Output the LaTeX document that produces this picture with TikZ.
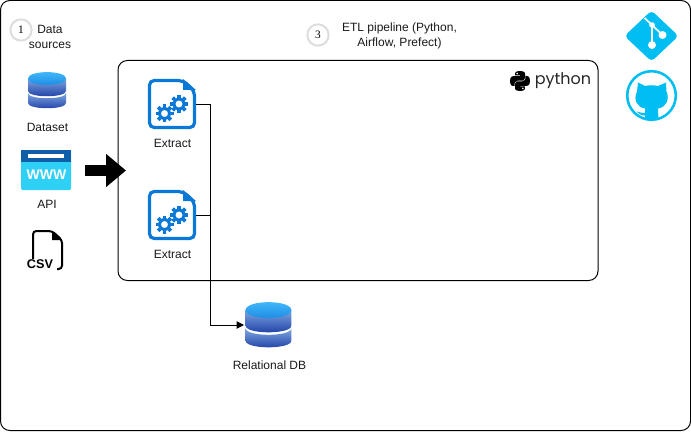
\documentclass[tikz,border=0pt]{standalone}
\usepackage{fontspec}
\setmainfont{Liberation Sans}
\newfontfamily\logofont{Poppins}
\newfontfamily\numfont{Liberation Serif}
\usetikzlibrary{arrows.meta}
\definecolor{IconBlue}{HTML}{0A78D7}
\definecolor{BrandCyan}{HTML}{00BEF2}
\definecolor{WwwDark}{HTML}{0F5EA8}
\definecolor{WwwLight}{HTML}{2FD0F5}
\definecolor{DbTop}{HTML}{45BDFF}
\definecolor{DbTopEnd}{HTML}{1A86DE}
\definecolor{DbLight}{HTML}{7FA8E0}
\definecolor{DbDark}{HTML}{1B3CA6}
\definecolor{StepGray}{HTML}{DDDDDD}
\newcommand{\pxwidth}{0.75pt}
\tikzset{
  label text/.style={font=\fontsize{9}{11.25}\selectfont,align=center,text=black!90,inner sep=0pt},
  icon box/.style={inner sep=0pt,outer sep=0pt,minimum width=#1*0.75pt,minimum height=#1*0.75pt},
  step circle/.style={circle,draw=StepGray,line width=1.5pt,minimum size=16pt,inner sep=0pt,
    font=\numfont\fontsize{8.5}{10}\selectfont},
  frame box/.style={draw=black,line width=\pxwidth,rounded corners=7pt},
  link line/.style={draw=black,line width=\pxwidth},
}
% cylinder, x and y are the top centre
\newcommand{\dbicon}[4]{
  \begin{scope}[shift={(#1,#2)},xscale=#3,yscale=#4]
    \shade[top color=DbLight,bottom color=DbDark] (-19,6) -- (-19,19)
      .. controls (-19,26) and (19,26) .. (19,19) -- (19,6) -- cycle;
    \shade[top color=DbLight,bottom color=DbDark] (-19,21)
      .. controls (-19,28) and (19,28) .. (19,21) -- (19,31)
      .. controls (19,38) and (-19,38) .. (-19,31) -- cycle;
    \shade[top color=DbTop,bottom color=DbTopEnd] (-19,6.5)
      .. controls (-19,-2) and (19,-2) .. (19,6.5)
      .. controls (19,15) and (-19,15) .. (-19,6.5) -- cycle;
  \end{scope}
}
\newcommand{\gearicon}[3]{
  \begin{scope}[shift={(#1,#2)}]
    \foreach \a in {0,45,...,315}
      \draw[IconBlue,line width=#3*0.3pt] (\a:#3*0.7) -- (\a:#3);
    \draw[IconBlue,fill=white,line width=#3*0.25pt] (0,0) circle (#3*0.58);
  \end{scope}
}
\newcommand{\extracticon}[2]{
  \begin{scope}[shift={(#1,#2)}]
    \draw[IconBlue,line width=2.4pt,rounded corners=3.5pt,fill=white]
      (1.5,1.5) -- (35,1.5) -- (46.5,12) -- (46.5,48.5) -- (1.5,48.5) -- cycle;
    \fill[IconBlue] (35,0) -- (48,11) -- (35,11) -- cycle;
    \gearicon{31}{25}{9}
    \gearicon{16.5}{34.5}{9}
  \end{scope}
}
\newcommand{\wwwicon}[2]{
  \begin{scope}[shift={(#1,#2)}]
    \fill[WwwLight,rounded corners=1pt] (0,0) rectangle (50,40);
    \fill[WwwDark] (0,0) rectangle (50,12);
    \fill[white] (7,3.5) rectangle (43,7.5);
  \end{scope}
}
\newcommand{\csvicon}[2]{
  \begin{scope}[shift={(#1,#2)}]
    \draw[black,line width=1.5pt,rounded corners=2.5pt]
      (0,28) -- (0,0) -- (19,0) -- (29,9) -- (29,38) -- (24,38);
    \fill[black] (19,0) -- (29,9) -- (19,9) -- cycle;
  \end{scope}
}
\newcommand{\pythonsnake}{
  (9.9,0) .. controls (4.9,0) and (5.2,2.2) .. (5.2,2.2) -- (5.2,4.5) -- (10,4.5) -- (10,5.2) -- (3.3,5.2)
  .. controls (3.3,5.2) and (0,4.8) .. (0,10) .. controls (0,15.1) and (2.9,15) .. (2.9,15)
  -- (4.6,15) -- (4.6,12.6) .. controls (4.6,12.6) and (4.5,9.7) .. (7.4,9.7) -- (12.3,9.7)
  .. controls (12.3,9.7) and (15,9.7) .. (15,7.1) -- (15,2.7) .. controls (15,2.7) and (15.4,0) .. (9.9,0) -- cycle
}
\newcommand{\pythonicon}[2]{
  \begin{scope}[shift={(#1,#2)}]
    \fill[black] \pythonsnake;
    \fill[white] (7.2,2.6) circle (0.9);
    \begin{scope}[rotate around={180:(10,10)}]
      \fill[black] \pythonsnake;
      \fill[white] (7.2,2.6) circle (0.9);
    \end{scope}
  \end{scope}
}
\newcommand{\giticon}[2]{
  \begin{scope}[shift={(#1,#2)}]
    \fill[BrandCyan,rounded corners=3pt] (-27,0) -- (0,-25.5) -- (27,0) -- (0,25.5) -- cycle;
    \draw[white,line width=1.3pt] (-7,-18) -- (0.5,-11) -- (0.5,9);
    \draw[white,line width=1.3pt] (0.5,-11) -- (11,-1);
    \fill[white] (0.5,-11) circle (2.8);
    \fill[white] (11,-1) circle (4);
    \fill[white] (0.5,9) circle (4);
  \end{scope}
}
\newcommand{\githubicon}[2]{
  \begin{scope}[shift={(#1,#2)}]
    \draw[BrandCyan,line width=1.9pt] (0,0) circle (24.3);
    \fill[BrandCyan] (-13.5,-13) -- (-6.5,-9.5) .. controls (-2.5,-10.5) and (2.5,-10.5) .. (6.5,-9.5)
      -- (14.5,-13) -- (15,-4) .. controls (18.5,4) and (14.5,12) .. (6.5,13)
      -- (7,24) -- (-6.5,24) -- (-6.5,20) .. controls (-10,20.5) and (-13,18) .. (-15,16)
      .. controls (-12,16.5) and (-9,18) .. (-6.5,17.5) -- (-6.5,13)
      .. controls (-14.5,12) and (-18.5,4) .. (-14.5,-4) -- cycle;
  \end{scope}
}
\begin{document}
\begin{tikzpicture}[x=0.75pt,y=-0.75pt]
  \useasboundingbox (0,0) rectangle (691,431);
  \path[frame box] (0.5,0.5) rectangle (690.5,430.5);
  \node[frame box,minimum width=480*0.75pt,minimum height=220*0.75pt,outer sep=0pt,inner sep=0pt] (pipeline) at (358,170.5) {};

  % data sources
  \node[step circle] (stepone) at (21,30) {1};
  \node[label text] (sourcestitle) at (50,36.5) {Data\\sources};
  \dbicon{47}{72}{1}{1}
  \node[icon box=38] (dataset) at (47,90) {};
  \node[label text,below=0pt] (datasetlabel) at (47.5,122.5) {Dataset};
  \wwwicon{21}{150}
  \node[icon box=40,minimum width=50*0.75pt,text=white,font=\bfseries\fontsize{10.5}{12}\selectfont] (api) at (46.5,174.5) {WWW};
  \node[label text,below=0pt] (apilabel) at (47,199.5) {API};
  \csvicon{33}{231}
  \node[inner sep=0.6pt,fill=white,text=black,font=\bfseries\fontsize{9.5}{12}\selectfont] (csvfile) at (40,264.5) {CSV};

  % big arrow
  \coordinate (feedstart) at (85,170.5);
  \coordinate (feedend) at (126,170.5);
  \draw[line width=8.25pt,-{Triangle[length=15pt,width=24pt]}] (feedstart) -- (feedend);

  % pipeline
  \node[step circle] (stepthree) at (318,35) {3};
  \node[label text] (pipelinetitle) at (399.5,36) {ETL pipeline (Python,\\Airflow, Prefect)};
  \pythonicon{510}{71}
  \node[inner sep=0pt,text=black!85,font=\logofont\fontsize{12}{14}\selectfont,anchor=base west] (pythonword) at (534.5,85) {python};
  \extracticon{148}{79}
  \node[icon box=50,minimum width=48*0.75pt] (extractone) at (172,104) {};
  \node[label text,below=0pt] (extractonelabel) at (172.5,138.5) {Extract};
  \extracticon{148}{190}
  \node[icon box=50,minimum width=48*0.75pt] (extracttwo) at (172,215) {};
  \node[label text,below=0pt] (extracttwolabel) at (172.5,249.5) {Extract};

  % target
  \dbicon{268.5}{302}{1.2}{1.25}
  \node[icon box=45,minimum width=49*0.75pt] (relationaldb) at (268.5,325) {};
  \node[label text,below=0pt] (relationaldblabel) at (269.5,361) {Relational DB};

  \coordinate (busline) at (210.5,104.5);
  \draw[link line,-{Triangle[length=5.5pt,width=5.5pt]}] (extractone.east |- busline) -- (busline) |- (relationaldb.west);
  \draw[link line] (extracttwo.east) -- (busline |- extracttwo.east);

  % tools
  \giticon{651.5}{36}
  \node[icon box=50] (gitlogo) at (651.5,36) {};
  \githubicon{651.5}{95.5}
  \node[icon box=50] (githublogo) at (651.5,95.5) {};
\end{tikzpicture}
\end{document}
